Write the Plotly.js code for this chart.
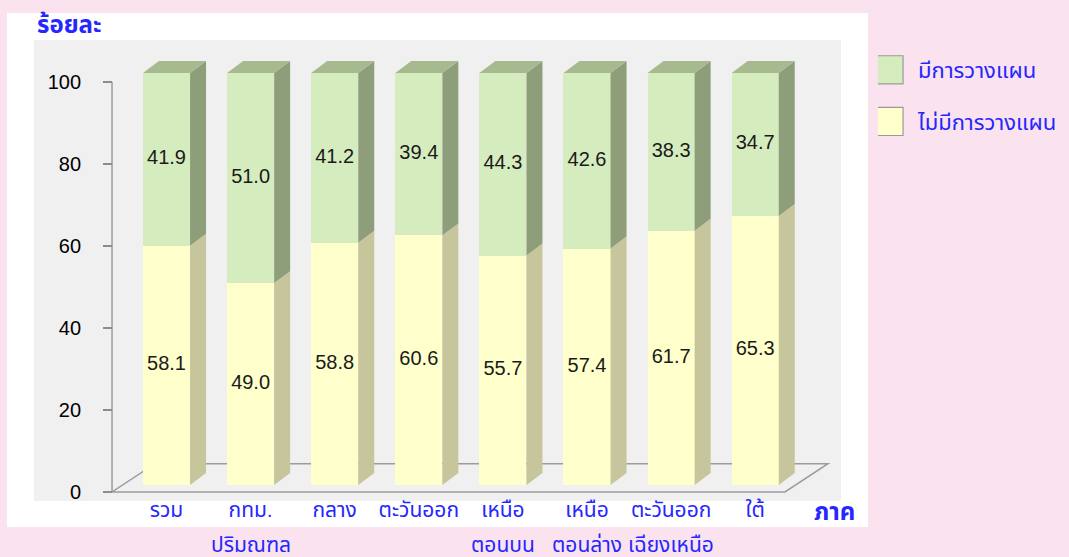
<!DOCTYPE html>
<html><head><meta charset="utf-8">
<script src="https://cdn.plot.ly/plotly-3.0.1.min.js"></script>
<style>html,body{margin:0;padding:0;background:#FAE3EE;} #chart{width:1069px;height:557px;}</style>
</head><body><div id="chart"></div>
<script>
// ---- data ----
const categories = ["รวม", "กทม.", "กลาง", "ตะวันออก", "เหนือ", "เหนือ", "ตะวันออก", "ใต้"];
const categoriesLine2 = ["", "ปริมณฑล", "", "", "ตอนบน", "ตอนล่าง", "เฉียงเหนือ", ""];
const noPlan = [58.1, 49.0, 58.8, 60.6, 55.7, 57.4, 61.7, 65.3];
const plan = [41.9, 51.0, 41.2, 39.4, 44.3, 42.6, 38.3, 34.7];
const yTickVals = [0, 20, 40, 60, 80, 100];
const seriesNames = ["ไม่มีการวางแผน", "มีการวางแผน"];
const yTitle = "ร้อยละ";
const xTitle = "ภาค";

// ---- layout helpers ----
const FONT = 'Tahoma, "Liberation Sans", "Noto Sans Thai", "Noto Sans", sans-serif';
const BLUE = '#2626ff';
const idx = categories.map((_, i) => i);
const n = categories.length;
const BAR_W = 0.56, DX = 0.19, DY = 2.9;
const totals = idx.map(i => noPlan[i] + plan[i]);

function sideFaces(bases, tops) {
  const xs = [], ys = [];
  idx.forEach(i => {
    const xr = i + BAR_W / 2;
    xs.push(xr, xr + DX, xr + DX, xr, xr, null);
    ys.push(bases[i], bases[i] + DY, tops[i] + DY, tops[i], bases[i], null);
  });
  return { x: xs, y: ys };
}
function topFaces(tops) {
  const xs = [], ys = [];
  idx.forEach(i => {
    const xl = i - BAR_W / 2, xr = i + BAR_W / 2;
    xs.push(xl, xl + DX, xr + DX, xr, xl, null);
    ys.push(tops[i], tops[i] + DY, tops[i] + DY, tops[i], tops[i], null);
  });
  return { x: xs, y: ys };
}
const zeros = idx.map(() => 0);
const ySide = sideFaces(zeros, noPlan);
const gSide = sideFaces(noPlan, totals);
const gTop = topFaces(totals);

const polyCommon = { type: 'scatter', mode: 'lines', fill: 'toself', line: { width: 0 }, showlegend: false, hoverinfo: 'skip', yaxis: 'y2' };

const traces = [
  { type: 'bar', x: idx, y: noPlan, name: seriesNames[0], yaxis: 'y2', width: BAR_W,
    marker: { color: '#FFFFCC', line: { width: 0 } }, legendgroup: 'a', legendrank: 2, hoverinfo: 'skip' },
  { type: 'bar', x: idx, y: plan, name: seriesNames[1], yaxis: 'y2', width: BAR_W,
    marker: { color: '#D5ECBF', line: { width: 0 } }, legendgroup: 'b', legendrank: 1, hoverinfo: 'skip' },
  Object.assign({}, polyCommon, { x: ySide.x, y: ySide.y, fillcolor: '#C6C59B' }),
  Object.assign({}, polyCommon, { x: gSide.x, y: gSide.y, fillcolor: '#8F9E7A' }),
  Object.assign({}, polyCommon, { x: gTop.x, y: gTop.y, fillcolor: '#A7B98E' }),
  { type: 'scatter', mode: 'text', x: idx, y: noPlan.map(v => v / 2), yaxis: 'y2',
    text: noPlan.map(v => v.toFixed(1)), textfont: { family: FONT, size: 20, color: '#1a1a1a' },
    showlegend: false, hoverinfo: 'skip', cliponaxis: false },
  { type: 'scatter', mode: 'text', x: idx, y: idx.map(i => noPlan[i] + plan[i] / 2), yaxis: 'y2',
    text: plan.map(v => v.toFixed(1)), textfont: { family: FONT, size: 20, color: '#1a1a1a' },
    showlegend: false, hoverinfo: 'skip', cliponaxis: false }
];

// floor geometry (in axis units)
const FL = -0.648, FR = (n - 1) + 0.354, FDX = 0.511, FDY = 6.9;
const floorPath = `M${FL},0 L${FR},0 L${FR + FDX},${FDY} L${FL + FDX},${FDY} Z`;

const annotations = [
  { text: '<b>' + yTitle + '</b>', xref: 'paper', yref: 'paper', x: 0.001, y: 1.034, xanchor: 'left', yanchor: 'middle',
    showarrow: false, font: { family: FONT, size: 24, color: BLUE } },
  { text: '<b>' + xTitle + '</b>', xref: 'paper', yref: 'paper', x: 0.9915, y: -0.023, xanchor: 'center', yanchor: 'middle',
    showarrow: false, font: { family: FONT, size: 24, color: BLUE } }
];
categoriesLine2.forEach((t, i) => {
  if (t) annotations.push({ text: t, xref: 'x', yref: 'paper', x: i, y: -0.094, xanchor: 'center', yanchor: 'middle',
    showarrow: false, font: { family: FONT, size: 21, color: BLUE } });
});

const layout = {
  width: 1069, height: 557,
  margin: { l: 34, r: 228, t: 40, b: 56 },
  paper_bgcolor: '#FAE3EE',
  plot_bgcolor: 'rgba(0,0,0,0)',
  barmode: 'stack',
  hovermode: false,
  font: { family: FONT },
  xaxis: { range: [-1.5755, 8.02], tickvals: idx, ticktext: categories, showgrid: false, zeroline: false,
    showline: false, ticks: '', tickfont: { family: FONT, size: 21, color: BLUE }, fixedrange: true,
    anchor: 'free', position: 0.014 },
  yaxis: { range: [-2.2, 110.24], tickvals: yTickVals, ticks: 'outside', ticklen: 9, tickwidth: 1.5, tickcolor: '#8c8c8c',
    showgrid: false, zeroline: false, showline: false, anchor: 'free', position: 0.0967,
    tickfont: { family: FONT, size: 20, color: '#000' }, ticklabelstandoff: 18, fixedrange: true },
  yaxis2: { range: [-3.883, 108.01], overlaying: 'y', visible: false, fixedrange: true },
  legend: { xref: 'container', yref: 'container', x: 0.8213, y: 0.912, xanchor: 'left', yanchor: 'top',
    bgcolor: 'rgba(0,0,0,0)', font: { family: FONT, size: 22, color: BLUE }, tracegroupgap: 20, traceorder: 'grouped' },
  shapes: [
    { type: 'rect', xref: 'paper', yref: 'paper', x0: -0.0335, x1: 1.0335, y0: -0.0564, y1: 1.0586,
      fillcolor: '#FFFFFF', line: { width: 0 }, layer: 'below' },
    { type: 'rect', xref: 'paper', yref: 'paper', x0: 0, x1: 1, y0: 0, y1: 1,
      fillcolor: '#F0F0F0', line: { width: 0 }, layer: 'below' },
    { type: 'path', xref: 'x', yref: 'y', path: floorPath, line: { color: '#9c9c9c', width: 1.5 }, layer: 'below' },
    { type: 'line', xref: 'paper', yref: 'y', x0: 0.0967, x1: 0.0967, y0: 0, y1: 100,
      line: { color: '#9c9c9c', width: 1.5 }, layer: 'below' }
  ],
  annotations: annotations,
  showlegend: true
};

Plotly.newPlot('chart', traces, layout, { staticPlot: true, displayModeBar: false }).then(() => {
  document.querySelectorAll('#chart .legend path.legendbar, #chart .legend .legendpoints path').forEach(p => {
    const t = p.getAttribute('transform') || '';
    if (!/scale/.test(t)) p.setAttribute('transform', 'translate(-9,0) ' + t + ' scale(2.35)');
    p.style.stroke = '#9a9a9a';
    p.style.strokeWidth = '0.5px';
  });
});
</script>
</body></html>
